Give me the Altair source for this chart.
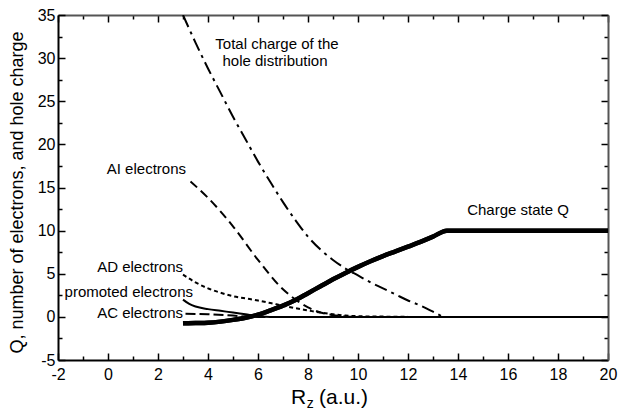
import altair as alt
import pandas as pd

# ---------------- data ----------------
tc_x = [3.0, 3.5, 4.0, 4.5, 5.0, 5.5, 6.0, 6.5, 7.0, 7.5, 8.0, 8.5, 9.0, 9.5,
        10.0, 10.5, 11.0, 11.5, 12.0, 12.5, 13.0, 13.4]
tc_y = [35.0, 31.8, 28.8, 26.0, 23.2, 20.6, 18.0, 15.6, 13.3, 11.2, 9.3, 7.8,
        6.6, 5.6, 4.8, 4.0, 3.3, 2.6, 1.9, 1.3, 0.6, 0.0]

ai_x = [3.3, 4.0, 5.0, 6.0, 7.0, 7.5, 8.0, 8.5, 9.0, 9.5, 10.0]
ai_y = [15.7, 13.8, 10.5, 6.6, 3.2, 2.0, 1.1, 0.5, 0.2, 0.05, 0.0]

ad_x = [3.0, 3.5, 4.0, 4.5, 5.0, 5.5, 6.0, 6.5, 7.0, 7.5, 8.0, 8.5, 9.0, 9.5,
        10.0, 11.0, 12.0]
ad_y = [4.9, 4.0, 3.3, 2.8, 2.4, 2.15, 1.9, 1.6, 1.3, 1.0, 0.75, 0.5, 0.3, 0.15,
        0.08, 0.03, 0.0]

pr_x = [3.0, 3.25, 3.5, 4.0, 4.5, 5.0, 5.5, 6.0, 6.5, 20.0]
pr_y = [2.0, 1.5, 1.2, 0.9, 0.7, 0.5, 0.3, 0.1, 0.0, 0.0]

ac_x = [3.1, 4.0, 5.0, 5.5, 6.0, 7.0]
ac_y = [0.35, 0.3, 0.15, 0.05, 0.0, 0.0]

q_x = [3.0, 3.5, 4.0, 4.5, 5.0, 5.5, 6.0, 6.5, 7.0, 7.5, 8.0, 8.5, 9.0, 9.5,
       10.0, 10.5, 11.0, 11.5, 12.0, 12.5, 13.0, 13.55, 20.0]
q_y = [-0.75, -0.72, -0.68, -0.55, -0.35, -0.1, 0.25, 0.75, 1.3, 1.95, 2.75, 3.55,
       4.35, 5.1, 5.8, 6.45, 7.05, 7.6, 8.15, 8.7, 9.3, 10.0, 10.0]

x_ticks = list(range(-2, 21))
y_ticks = [-5, -2.5, 0, 2.5, 5, 7.5, 10, 12.5, 15, 17.5, 20, 22.5, 25, 27.5,
           30, 32.5, 35]

# annotations (text, x, y, align)
lab_text = ["Total charge of the", "hole distribution", "AI electrons",
            "AD electrons", "promoted electrons", "AC electrons", "Charge state Q"]
lab_x = [6.76, 6.68, 3.12, 3.0, 3.4, 3.0, 16.4]
lab_y = [31.6, 29.65, 17.2, 5.8, 2.9, 0.47, 12.44]
lab_align = ["center", "center", "right", "right", "right", "right", "center"]

FONT = "Liberation Sans"


def df(xs, ys):
    return pd.DataFrame({"x": xs, "y": ys})


xs = alt.Scale(domain=[-2, 20], nice=False, zero=False)
ys = alt.Scale(domain=[-5, 35], nice=False, zero=False)

major_x = "datum.value % 2 === 0"
major_y = "datum.value % 5 === 0"

common = dict(tickColor="black", tickWidth=1.5, grid=False,
              labelFont=FONT, labelFontSize=16, labelColor="black",
              titleFont=FONT, titleColor="black", titleFontWeight="normal")

x_bottom = alt.Axis(values=x_ticks, orient="bottom", title=None,
                    labelExpr=f"{major_x} ? replace(datum.label, '\u2212', '-') : ''",
                    tickSize={"condition": {"test": major_x, "value": -7}, "value": -4},
                    labelPadding=13, domainColor="black", domainWidth=2,
                    labelFlush=False, labelOverlap=False, **common)
y_left = alt.Axis(values=y_ticks, orient="left",
                  title="Q, number of electrons, and hole charge",
                  titleFontSize=18, titleX=-41, titleY=177, titleAngle=-90,
                  titleAlign="center", titleBaseline="middle",
                  labelExpr=f"{major_y} ? replace(datum.label, '\u2212', '-') : ''",
                  tickSize={"condition": {"test": major_y, "value": -7}, "value": -4},
                  labelPadding=10, domainColor="black", domainWidth=2,
                  labelFlush=False, labelOverlap=False, **common)
x_top = alt.Axis(values=x_ticks, orient="top", title=None, labels=False,
                 tickSize={"condition": {"test": major_x, "value": -7}, "value": -4},
                 domainColor="#555", domainWidth=2, **common)
y_right = alt.Axis(values=y_ticks, orient="right", title=None, labels=False,
                   tickSize={"condition": {"test": major_y, "value": -7}, "value": -4},
                   domainColor="#555", domainWidth=2, **common)


def line(data, dash, width, xaxis=None, yaxis=None):
    kw = dict(color="black", strokeWidth=width, interpolate="monotone", clip=True)
    if dash:
        kw["strokeDash"] = dash
    return alt.Chart(data).mark_line(**kw).encode(
        x=alt.X("x:Q", scale=xs, axis=xaxis),
        y=alt.Y("y:Q", scale=ys, axis=yaxis),
    )


l_tc = line(df(tc_x, tc_y), [13, 5, 3, 5], 2, x_bottom, y_left)
l_q_axes = line(df(q_x, q_y), None, 4.5, x_top, y_right)
l_ai = line(df(ai_x, ai_y), [9, 5], 2)
l_ad = line(df(ad_x, ad_y), [4, 3], 2)
l_pr = line(df(pr_x, pr_y), None, 2)
l_ac = line(df(ac_x, ac_y), [10, 4], 2)
l_q = line(df(q_x, q_y), None, 4.5)

labels_df = pd.DataFrame({"t": lab_text, "x": lab_x, "y": lab_y, "a": lab_align})


def labels(align):
    d = labels_df[labels_df["a"] == align]
    return alt.Chart(d).mark_text(font=FONT, fontSize=15, color="black",
                                  align=align, baseline="middle").encode(
        x=alt.X("x:Q", scale=xs, axis=None),
        y=alt.Y("y:Q", scale=ys, axis=None),
        text="t:N",
    )


# x-axis title with subscript, as text placed below the axis
xt_text = ["R", "z", "(a.u.)"]
xt_x = [7.32, 7.95, 8.44]
xt_y = [-9.42, -10.1, -9.42]
xt_size = [21, 14, 21]
xt_df = pd.DataFrame({"t": xt_text, "x": xt_x, "y": xt_y, "s": xt_size})
xtitle = alt.Chart(xt_df).mark_text(font=FONT, color="black", align="left",
                                    baseline="middle").encode(
    x=alt.X("x:Q", scale=xs, axis=None),
    y=alt.Y("y:Q", scale=ys, axis=None),
    text="t:N",
    size=alt.Size("s:Q", scale=None, legend=None),
)

chart = alt.layer(
    l_tc, l_q_axes, l_ai, l_ad, l_pr, l_ac, l_q,
    labels("center"), labels("right"), xtitle,
).resolve_axis(x="independent", y="independent").properties(
    width=550, height=345,
    autosize=alt.AutoSizeParams(type="none"),
    padding={"left": 58, "top": 15, "right": 11, "bottom": 57},
    background="white",
).configure_view(stroke=None)

chart.save("out.html", embed_options={"renderer": "svg", "actions": False})
